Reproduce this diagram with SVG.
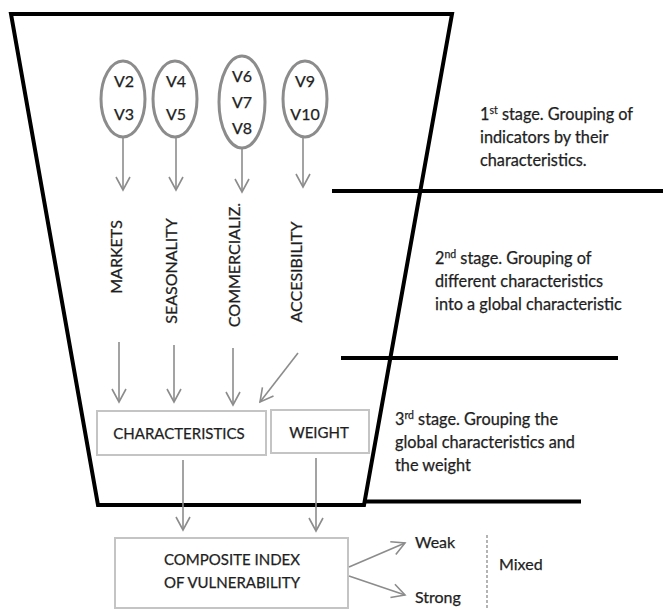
<svg xmlns="http://www.w3.org/2000/svg" width="663" height="609" viewBox="0 0 663 609">
<defs>
<style>
.frame{fill:none;stroke:#000;stroke-width:4;stroke-linejoin:miter}
.sep{stroke:#000;stroke-width:4}
.ell{fill:#fff;stroke:#8c8c8c;stroke-width:3}
.box{fill:#fff;stroke:#c4c4c4;stroke-width:2}
.conn{fill:none;stroke:#8c8c8c;stroke-width:1.6}
.t{font-family:Lato,"Liberation Sans",sans-serif;fill:#1e1e1e;stroke:#1e1e1e;stroke-width:0.25}
.v{font-size:16px;text-anchor:middle}
.lbl{font-size:16px;text-anchor:middle}
.stage{font-size:16.3px}
.sup{font-size:10.5px}
</style>
<marker id="arr" viewBox="0 0 16 16" refX="14" refY="8" markerWidth="16" markerHeight="16" markerUnits="userSpaceOnUse" orient="auto">
<path d="M1,1 L14,8 L1,15" fill="none" stroke="#8c8c8c" stroke-width="1.6"/>
</marker>
</defs>
<rect width="663" height="609" fill="#fff"/>

<g id="frame">
<path class="frame" d="M11,14 L452,14 L364,505 L98,505 Z"/>
<line class="sep" x1="364" y1="501.5" x2="581" y2="501.5"/>
<line class="sep" x1="332" y1="191" x2="663" y2="191"/>
<line class="sep" x1="341" y1="358" x2="618" y2="358"/>
</g>

<g id="g-v2v3">
<ellipse class="ell" cx="123" cy="99" rx="22" ry="38"/>
<text class="t v" x="124" y="87">V2</text>
<text class="t v" x="124" y="120">V3</text>
</g>
<g id="g-v4v5">
<ellipse class="ell" cx="175" cy="99" rx="22" ry="38"/>
<text class="t v" x="176" y="87">V4</text>
<text class="t v" x="176" y="120">V5</text>
</g>
<g id="g-v6v8">
<ellipse class="ell" cx="242" cy="102" rx="23" ry="46"/>
<text class="t v" x="242" y="82">V6</text>
<text class="t v" x="242" y="108">V7</text>
<text class="t v" x="242" y="134">V8</text>
</g>
<g id="g-v9v10">
<ellipse class="ell" cx="305" cy="99" rx="22" ry="38"/>
<text class="t v" x="305" y="87">V9</text>
<text class="t v" x="305" y="120">V10</text>
</g>

<g id="lbl-markets"><text class="t lbl" transform="translate(122,257) rotate(-90)">MARKETS</text></g>
<g id="lbl-seasonality"><text class="t lbl" transform="translate(177,271) rotate(-90)">SEASONALITY</text></g>
<g id="lbl-commercializ"><text class="t lbl" transform="translate(240,265) rotate(-90)">COMMERCIALIZ.</text></g>
<g id="lbl-accesibility"><text class="t lbl" transform="translate(302,272) rotate(-90)">ACCESIBILITY</text></g>

<g id="characteristics">
<rect class="box" x="97" y="411" width="169" height="44"/>
<text class="t" x="179" y="439" font-size="15" text-anchor="middle">CHARACTERISTICS</text>
</g>
<g id="weight">
<rect class="box" x="271" y="410" width="98" height="43"/>
<text class="t" x="319" y="438" font-size="15" text-anchor="middle">WEIGHT</text>
</g>
<g id="composite">
<rect class="box" x="115" y="538" width="233" height="70"/>
<text class="t" x="232" y="565" font-size="15" text-anchor="middle">COMPOSITE INDEX</text>
<text class="t" x="232" y="588" font-size="15" text-anchor="middle">OF VULNERABILITY</text>
</g>

<g id="weak"><text class="t" x="415" y="548" font-size="16">Weak</text></g>
<g id="strong"><text class="t" x="415" y="603" font-size="16">Strong</text></g>
<g id="mixed"><text class="t" x="499" y="570" font-size="16">Mixed</text></g>
<line x1="487" y1="535" x2="487" y2="609" stroke="#8c8c8c" stroke-width="1.3" stroke-dasharray="3,2"/>

<g id="stage1">
<text class="t stage" x="480" y="120">1<tspan class="sup" dy="-6">st</tspan><tspan dy="6"> stage. Grouping of</tspan></text>
<text class="t stage" x="480" y="143">indicators by their</text>
<text class="t stage" x="480" y="166">characteristics.</text>
</g>
<g id="stage2">
<text class="t stage" x="435" y="264">2<tspan class="sup" dy="-6">nd</tspan><tspan dy="6"> stage. Grouping of</tspan></text>
<text class="t stage" x="435" y="287">different characteristics</text>
<text class="t stage" x="435" y="310">into a global characteristic</text>
</g>
<g id="stage3">
<text class="t stage" x="395" y="425">3<tspan class="sup" dy="-6">rd</tspan><tspan dy="6"> stage. Grouping the</tspan></text>
<text class="t stage" x="395" y="448">global characteristics and</text>
<text class="t stage" x="395" y="471">the weight</text>
</g>

<g id="connectors">
<line class="conn" x1="123" y1="138" x2="123" y2="190" marker-end="url(#arr)"/>
<line class="conn" x1="176" y1="138" x2="176" y2="190" marker-end="url(#arr)"/>
<line class="conn" x1="242" y1="149" x2="242" y2="192" marker-end="url(#arr)"/>
<line class="conn" x1="303" y1="138" x2="303" y2="187" marker-end="url(#arr)"/>
<line class="conn" x1="119" y1="342" x2="119" y2="402" marker-end="url(#arr)"/>
<line class="conn" x1="174" y1="345" x2="174" y2="402" marker-end="url(#arr)"/>
<line class="conn" x1="233" y1="348" x2="233" y2="405" marker-end="url(#arr)"/>
<line class="conn" x1="298" y1="353" x2="260" y2="402" marker-end="url(#arr)"/>
<line class="conn" x1="183" y1="460" x2="183" y2="530" marker-end="url(#arr)"/>
<line class="conn" x1="316" y1="458" x2="316" y2="531" marker-end="url(#arr)"/>
<line class="conn" x1="349" y1="567" x2="405" y2="543" marker-end="url(#arr)"/>
<line class="conn" x1="349" y1="576" x2="405" y2="595" marker-end="url(#arr)"/>
</g>
</svg>
